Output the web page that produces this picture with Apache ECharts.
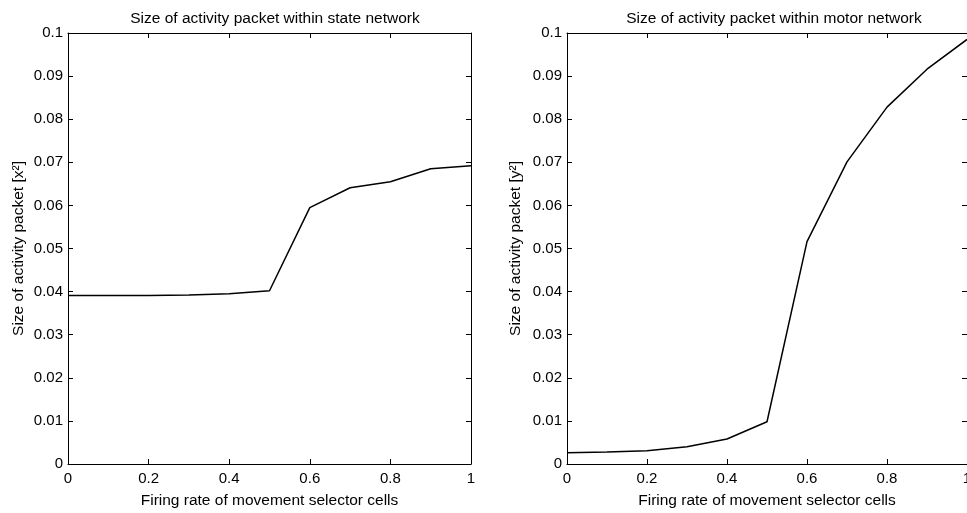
<!DOCTYPE html>
<html>
<head>
<meta charset="utf-8">
<script src="https://cdn.jsdelivr.net/npm/echarts@6/dist/echarts.min.js"></script>
<style>
  html, body { margin: 0; padding: 0; background: #fff; }
  #chart { width: 967px; height: 513px; }
</style>
</head>
<body>
<div id="chart"></div>
<script>
// firing rate of movement selector cells
var firingRate = [0, 0.1, 0.2, 0.3, 0.4, 0.5, 0.6, 0.7, 0.8, 0.9, 1.0];
// packet size, state network [x^2]
var stateSize = [0.0391, 0.0391, 0.0391, 0.0392, 0.0395, 0.0402, 0.0595, 0.0641, 0.0655, 0.0685, 0.0692];
// packet size, motor network [y^2]
var motorSize = [0.0026, 0.0028, 0.0031, 0.0040, 0.0058, 0.0098, 0.0516, 0.0701, 0.0828, 0.0916, 0.0985];

var titles = ['Size of activity packet within state network', 'Size of activity packet within motor network'];
var yNames = ['Size of activity packet [x\u00b2]', 'Size of activity packet [y\u00b2]'];
var xName = 'Firing rate of movement selector cells';

function pairs(xs, ys) {
  return xs.map(function (x, i) { return [x, ys[i]]; });
}

var font = 'Liberation Sans, Arial, Helvetica, sans-serif';
var black = '#000';
var fs = 15;
var nameFs = 15.5;

function xAxisFor(gi, top) {
  return {
    type: 'value', gridIndex: gi, min: 0, max: 1, interval: 0.2,
    position: top ? 'top' : 'bottom',
    name: top ? '' : xName, nameLocation: 'middle', nameGap: 29,
    nameTextStyle: { color: black, fontSize: nameFs, fontFamily: font },
    axisLine: { show: true, onZero: false, lineStyle: { color: black, width: 1 } },
    axisTick: { show: true, inside: true, length: 5, lineStyle: { color: black } },
    axisLabel: { show: !top, color: black, fontSize: fs, fontFamily: font, margin: 7 },
    splitLine: { show: false }
  };
}

function yAxisFor(gi, right, gap) {
  return {
    type: 'value', gridIndex: gi, min: 0, max: 0.1, interval: 0.01,
    position: right ? 'right' : 'left',
    name: right ? '' : yNames[gi], nameLocation: 'middle', nameGap: gap,
    nameTextStyle: { color: black, fontSize: nameFs, fontFamily: font },
    axisLine: { show: true, onZero: false, lineStyle: { color: black, width: 1 } },
    axisTick: { show: true, inside: true, length: 5, lineStyle: { color: black } },
    axisLabel: { show: !right, color: black, fontSize: fs, fontFamily: font, margin: 5 },
    splitLine: { show: false }
  };
}

var chart = echarts.init(document.getElementById('chart'));
var option = {
  animation: false,
  backgroundColor: '#fff',
  title: [
    { text: titles[0], left: 270, top: 6, textAlign: 'center',
      textStyle: { color: black, fontSize: nameFs, fontWeight: 'normal', fontFamily: font } },
    { text: titles[1], left: 769, top: 6, textAlign: 'center',
      textStyle: { color: black, fontSize: nameFs, fontWeight: 'normal', fontFamily: font } }
  ],
  grid: [
    { left: 68, top: 33, width: 403, height: 431, outerBoundsMode: 'none' },
    { left: 567, top: 33, width: 400, height: 431, outerBoundsMode: 'none' }
  ],
  xAxis: [xAxisFor(0, false), xAxisFor(0, true), xAxisFor(1, false), xAxisFor(1, true)],
  yAxis: [yAxisFor(0, false, 41), yAxisFor(0, true, 0), yAxisFor(1, false, 43), yAxisFor(1, true, 0)],
  series: [
    { type: 'line', xAxisIndex: 0, yAxisIndex: 0, data: pairs(firingRate, stateSize),
      showSymbol: false, lineStyle: { color: black, width: 1.5 } },
    { type: 'line', xAxisIndex: 2, yAxisIndex: 2, data: pairs(firingRate, motorSize),
      showSymbol: false, lineStyle: { color: black, width: 1.5 } }
  ]
};
chart.setOption(option);
window.addEventListener('resize', function () { chart.resize(); });
</script>
</body>
</html>
